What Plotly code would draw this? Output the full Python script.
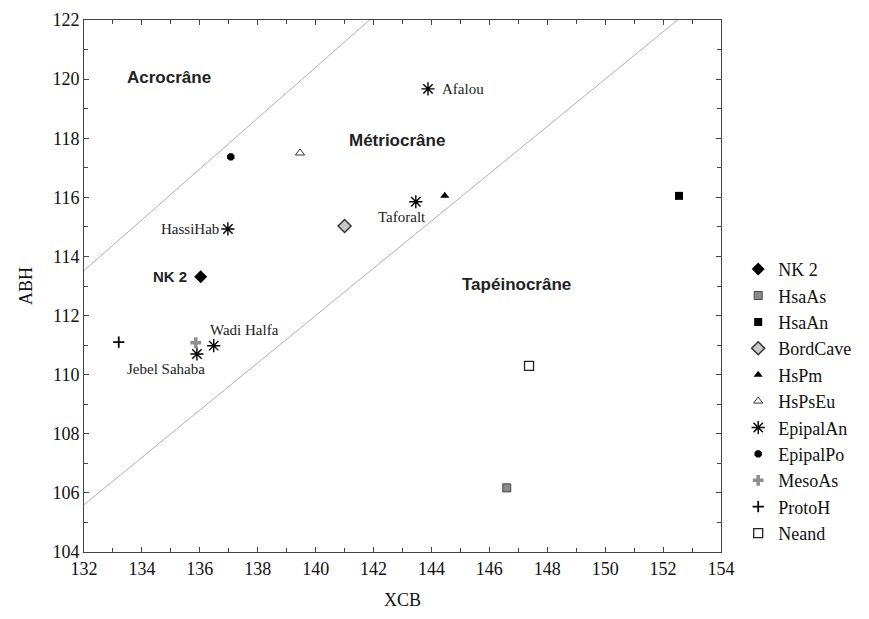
import plotly.graph_objects as go

# group data (XCB, ABH)
groups = ["NK 2", "HsaAs", "HsaAn", "BordCave", "HsPm", "HsPsEu",
          "EpipalAn", "EpipalPo", "MesoAs", "ProtoH", "Neand"]
xcb = {
    "NK 2": [136.03],
    "HsaAs": [146.6],
    "HsaAn": [152.55],
    "BordCave": [141.0],
    "HsPm": [144.46],
    "HsPsEu": [139.46],
    "EpipalAn": [143.88, 143.46, 136.97, 136.48, 135.9],
    "EpipalPo": [137.07],
    "MesoAs": [135.86],
    "ProtoH": [133.2],
    "Neand": [147.37],
}
abh = {
    "NK 2": [113.31],
    "HsaAs": [106.17],
    "HsaAn": [116.05],
    "BordCave": [115.03],
    "HsPm": [116.05],
    "HsPsEu": [117.5],
    "EpipalAn": [119.67, 115.85, 114.93, 110.98, 110.7],
    "EpipalPo": [117.37],
    "MesoAs": [111.08],
    "ProtoH": [111.1],
    "Neand": [110.3],
}
site_names = ["Afalou", "Taforalt", "HassiHab", "Wadi Halfa", "Jebel Sahaba"]

# height-breadth index boundaries (ABH/XCB)
index_limits = [0.80, 0.86]
line_x = [130, 156]

regions = ["Acrocrâne", "Métriocrâne", "Tapéinocrâne"]
region_x = [134.95, 142.8, 146.95]
region_y = [120.07, 117.94, 113.04]

styles = {
    "NK 2": dict(symbol="diamond", color="black", size=10),
    "HsaAs": dict(symbol="square", color="#8a8a8a", size=8, line=dict(color="#444", width=1)),
    "HsaAn": dict(symbol="square", color="black", size=8),
    "BordCave": dict(symbol="diamond", color="#c8c8c8", size=10, line=dict(color="#333", width=1.5)),
    "HsPm": dict(symbol="triangle-up", color="black", size=8),
    "HsPsEu": dict(symbol="triangle-up-open", color="#333", size=8, line=dict(width=1)),
    "EpipalAn": dict(symbol="asterisk-open", color="black", size=11, line=dict(color="black", width=1.4)),
    "EpipalPo": dict(symbol="octagon", color="black", size=8),
    "MesoAs": dict(symbol="cross", color="#8f8f8f", size=9),
    "ProtoH": dict(symbol="cross-thin-open", color="black", size=8, line=dict(color="black", width=1.8)),
    "Neand": dict(symbol="square-open", color="#222", size=9, line=dict(width=1.3)),
}

serif = "Liberation Serif"
sans = "Liberation Sans"

fig = go.Figure()

for r in index_limits:
    fig.add_trace(go.Scatter(x=line_x, y=[r * v for v in line_x], mode="lines",
                             line=dict(color="#b0b0b0", width=1),
                             showlegend=False, hoverinfo="skip"))

for g in groups:
    fig.add_trace(go.Scatter(x=xcb[g], y=abh[g], mode="markers", name=g,
                             marker=styles[g]))

# site labels for the EpipalAn points: (xanchor, yanchor, xshift, yshift)
label_pos = [("left", "middle", 12, 0), ("right", "top", 12, -5), ("right", "middle", -7, 0),
             ("left", "bottom", -6, 6), ("right", "top", 10, -5)]
for name, x, y, (xa, ya, dx, dy) in zip(site_names, xcb["EpipalAn"], abh["EpipalAn"], label_pos):
    fig.add_annotation(x=x, y=y, text=name, showarrow=False, xanchor=xa, yanchor=ya,
                       xshift=dx, yshift=dy, font=dict(family=serif, size=15, color="#222"))

fig.add_annotation(x=xcb["NK 2"][0], y=abh["NK 2"][0], text="<b>NK 2</b>", showarrow=False,
                   xanchor="right", xshift=-12, font=dict(family=sans, size=15, color="#222"))

for t, x, y in zip(regions, region_x, region_y):
    fig.add_annotation(x=x, y=y, text="<b>" + t + "</b>", showarrow=False,
                       font=dict(family=sans, size=17, color="#222"))

axis_common = dict(showgrid=False, zeroline=False, showline=True, linecolor="#444",
                   linewidth=1, mirror="ticks", ticks="inside", ticklen=5,
                   tickcolor="#444", automargin=False,
                   tickfont=dict(family=serif, size=18, color="#111"),
                   minor=dict(ticks="inside", dtick=1, ticklen=4, tickcolor="#444"))

fig.update_xaxes(range=[132, 154], dtick=2, title=dict(text="XCB",
                 font=dict(family=serif, size=18, color="#111")), **axis_common)
fig.update_yaxes(range=[104, 122], dtick=2, title=dict(text="ABH",
                 font=dict(family=serif, size=18, color="#111")), **axis_common)

# page body adds an 8px offset, margins compensate for it
fig.update_layout(
    width=869, height=619,
    margin=dict(l=76, r=156, t=12, b=75),
    plot_bgcolor="white", paper_bgcolor="white",
    legend=dict(x=1.027, y=0.566, xanchor="left", yanchor="top",
                font=dict(family=serif, size=18, color="#111"),
                tracegroupgap=0, itemwidth=30),
)

fig.write_html("out.html")
